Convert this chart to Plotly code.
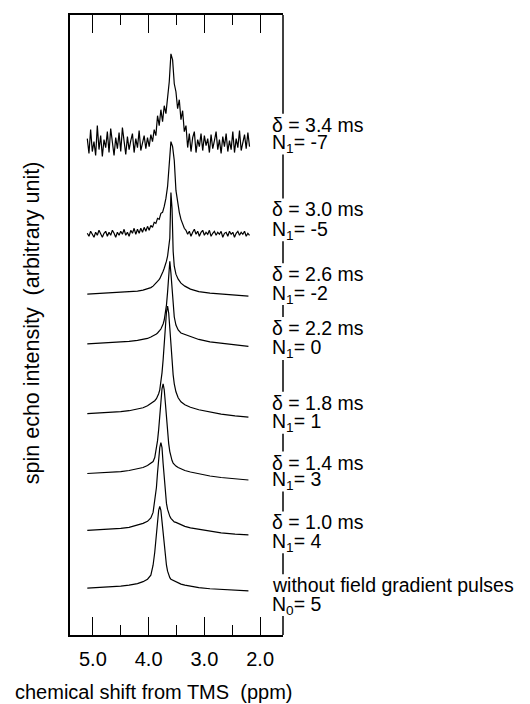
import plotly.graph_objects as go

# ---------------- data (chemical shift in ppm, intensities in arbitrary units) ----------------
grid_ppm = [5.10, 4.90, 4.70, 4.50, 4.35, 4.20, 4.10, 4.02, 3.96, 3.92, 3.89, 3.86, 3.84, 3.82,
            3.80, 3.78, 3.76, 3.74, 3.72, 3.70, 3.68, 3.66, 3.64, 3.62, 3.60, 3.58, 3.56, 3.54,
            3.51, 3.47, 3.42, 3.35, 3.25, 3.10, 2.90, 2.70, 2.45, 2.21]

spec_n0 = [4, 4.5, 5, 6, 7, 8.5, 10.5, 13, 17, 27, 40, 58, 71, 82, 86, 82, 71, 58, 45, 34, 27, 21,
           17, 14.5, 13, 12.5, 11.5, 11, 10, 9, 8, 7, 6, 4.6, 3.4, 2.6, 1.6, 1.2]
spec_10 = [5, 5.5, 6, 7, 8, 10, 12, 14, 17.5, 23, 34, 48, 63, 77, 88, 93, 88, 72, 55, 41, 32, 26,
           22, 19, 17, 15.5, 14.5, 13.5, 13, 12, 10.5, 9, 7.5, 6, 4, 2.5, 1.2, 0.5]
spec_14 = [7, 7.5, 8, 9, 10, 11.5, 13, 15, 17, 19, 23, 32, 40, 51, 66, 80, 92, 97, 91, 78, 62, 48,
           37, 29, 24, 20, 17.5, 16, 14.5, 13, 11.5, 10, 8.5, 6.5, 4.5, 3, 1.5, 0.5]
spec_18 = [4, 4.5, 5, 6, 7, 8.5, 10, 12, 14, 15.5, 17, 19, 21, 24, 28, 36, 45, 58, 76, 93, 106,
           112, 105, 90, 73, 56, 43, 34, 26, 20, 16, 13, 10.5, 8, 5.5, 3.5, 1.8, 0.5]
spec_22 = [3, 3.5, 4, 4.5, 5.5, 6.5, 7.5, 8.5, 10, 11, 12, 13, 14, 15, 16.5, 18, 20, 23, 27, 33,
           42, 55, 72, 86, 74, 57, 41, 30, 22, 17, 14, 12.5, 10, 7.5, 5, 3.5, 1.8, 0.5]
spec_26 = [2, 2.5, 3, 3.5, 4, 5, 6, 7, 8.5, 10, 11.5, 13, 14.5, 16, 17.5, 19.5, 22, 25, 28, 31,
           35, 40, 48, 58, 104, 88, 45, 30, 22, 17, 13, 10, 7, 4.5, 3, 2, 1, 0]

noise_ppm = [5.10, 5.07, 5.04, 5.01, 4.98, 4.95, 4.92, 4.89, 4.86, 4.83, 4.80, 4.77, 4.74, 4.71,
             4.68, 4.65, 4.62, 4.59, 4.56, 4.53, 4.50, 4.47, 4.44, 4.41, 4.38, 4.35, 4.32, 4.29,
             4.26, 4.23, 4.20, 4.17, 4.14, 4.11, 4.08, 4.05, 4.02, 3.99, 3.96, 3.93, 3.90, 3.87,
             3.84, 3.81, 3.78, 3.75, 3.72, 3.69, 3.66, 3.63, 3.60, 3.57, 3.54, 3.51, 3.48, 3.45,
             3.42, 3.39, 3.36, 3.33, 3.30, 3.27, 3.24, 3.21, 3.18, 3.15, 3.12, 3.09, 3.06, 3.03,
             3.00, 2.97, 2.94, 2.91, 2.88, 2.85, 2.82, 2.79, 2.76, 2.73, 2.70, 2.67, 2.64, 2.61,
             2.58, 2.55, 2.52, 2.49, 2.46, 2.43, 2.40, 2.37, 2.34, 2.31, 2.28, 2.25, 2.22, 2.19]

spec_30 = [1, -2, 3, 0, -3, 2, -1, 4, 0, -3, 1, 3, -2, 2, -1, 4, 1, -3, 2, -1, 3, 0, 5, -1, 2, -2,
           4, 1, 6, 0, 5, 1, 6, 2, 7, 3, 8, 4, 9, 7, 12, 11, 16, 15, 21, 22, 28, 36, 48, 76, 93, 88,
           74, 44, 30, 22, 15, 11, 6, 4, 0, 3, -2, 2, 5, 0, 3, -2, 2, 4, -1, 2, 0, 4, -2, 1, 3, -1,
           2, 0, 3, -3, 1, 2, -2, 3, 0, 2, -3, 1, 3, -1, 2, 0, 3, -2, 1, -1]
spec_34 = [5, -10, 14, -8, 2, -12, 18, -6, 8, -13, 4, -4, 12, -9, 15, -2, -12, 6, -5, 11, -8, 16,
           0, -11, 7, -6, 3, 10, -9, 5, -4, 13, -7, 2, 8, -5, 6, -3, 9, 2, 14, 8, 28, 18, 34, 22, 38,
           30, 48, 62, 90, 84, 60, 52, 35, 44, 24, 33, 12, 18, -4, 10, -8, 6, 12, -9, 4, -3, 10, -7,
           8, -2, 5, -9, 9, -5, 3, 12, -6, 4, -10, 7, -3, 10, -8, 3, -6, 12, -9, 5, -4, 13, -7, 2, 9,
           -5, 11, -3]

# vertical offsets of the stacked spectra (bottom to top)
offsets = [43, 100, 155, 218, 289, 340, 402, 493]

label_delta = ["without field gradient pulses", "δ = 1.0 ms", "δ = 1.4 ms", "δ = 1.8 ms",
               "δ = 2.2 ms", "δ = 2.6 ms", "δ = 3.0 ms", "δ = 3.4 ms"]
label_n = ["N<sub>0</sub>= 5", "N<sub>1</sub>= 4", "N<sub>1</sub>= 3", "N<sub>1</sub>= 1",
           "N<sub>1</sub>= 0", "N<sub>1</sub>= -2", "N<sub>1</sub>= -5", "N<sub>1</sub>= -7"]
label_delta_y = [50, 113, 173, 233, 308, 362, 427, 512]
label_n_y = [30, 93, 155, 213, 287, 342, 406, 493]

tick_vals = [5.0, 4.0, 3.0, 2.0]
tick_text = ["5.0", "4.0", "3.0", "2.0"]
minor_vals = [4.5, 3.5, 2.5]

# ---------------- figure ----------------
FONT = "Liberation Sans, Arial, Helvetica, sans-serif"
Y_TOP = 622
HALF = 11  # half height of a label line, used to break the right frame line
fig = go.Figure()

series = [(grid_ppm, spec_n0), (grid_ppm, spec_10), (grid_ppm, spec_14), (grid_ppm, spec_18),
          (grid_ppm, spec_22), (grid_ppm, spec_26), (noise_ppm, spec_30), (noise_ppm, spec_34)]
for (xs, ys), off in zip(series, offsets):
    fig.add_trace(go.Scatter(x=xs, y=[v + off for v in ys], mode="lines",
                             line=dict(color="black", width=1.2), hoverinfo="skip",
                             showlegend=False))

for txt, yy in zip(label_delta, label_delta_y):
    fig.add_annotation(x=1.80, y=yy, xref="x", yref="y", text=txt, showarrow=False,
                       xanchor="left", yanchor="middle", borderpad=0,
                       font=dict(family=FONT, size=19.5, color="black"))
for txt, yy in zip(label_n, label_n_y):
    fig.add_annotation(x=1.80, y=yy, xref="x", yref="y", text=txt, showarrow=False,
                       xanchor="left", yanchor="middle", borderpad=0,
                       font=dict(family=FONT, size=19.5, color="black"))

# right frame line, broken where the labels sit
gaps_lo = [0] + [d + HALF for d in label_delta_y]
gaps_hi = [n - HALF for n in label_n_y] + [Y_TOP]
for lo, hi in zip(gaps_lo, gaps_hi):
    fig.add_shape(type="line", xref="paper", yref="y", x0=1, x1=1, y0=lo, y1=hi,
                  line=dict(color="black", width=1.5))

fig.add_annotation(x=0.392, y=-0.0916, xref="paper", yref="paper",
                   text="chemical shift from TMS\u00a0\u00a0(ppm)", showarrow=False,
                   xanchor="center", yanchor="middle",
                   font=dict(family=FONT, size=20, color="black"))
fig.add_annotation(x=-0.178, y=0.503, xref="paper", yref="paper",
                   text="spin echo intensity\u00a0\u00a0(arbitrary unit)", showarrow=False,
                   textangle=-90, xanchor="center", yanchor="middle",
                   font=dict(family=FONT, size=21.5, color="black"))

# page body adds an 8 px margin, so the figure is 8 px smaller than the window
fig.update_layout(
    width=522, height=696,
    margin=dict(l=62, r=247, t=5, b=69),
    paper_bgcolor="white", plot_bgcolor="white",
    font=dict(family=FONT, size=20, color="black"),
    xaxis=dict(range=[5.41, 1.59], tickvals=tick_vals, ticktext=tick_text,
               ticks="inside", ticklen=18, tickwidth=1.4, tickcolor="black",
               minor=dict(tickvals=minor_vals, ticks="inside", ticklen=10, tickwidth=1.4,
                          tickcolor="black"),
               showline=True, linecolor="black", linewidth=1.5, mirror="ticks",
               showgrid=False, zeroline=False, ticklabelstandoff=5,
               tickfont=dict(family=FONT, size=20, color="black")),
    yaxis=dict(range=[0, Y_TOP], showticklabels=False, ticks="", showline=True,
               linecolor="black", linewidth=1.5, mirror=False, showgrid=False, zeroline=False),
)

fig.write_html("out.html")
